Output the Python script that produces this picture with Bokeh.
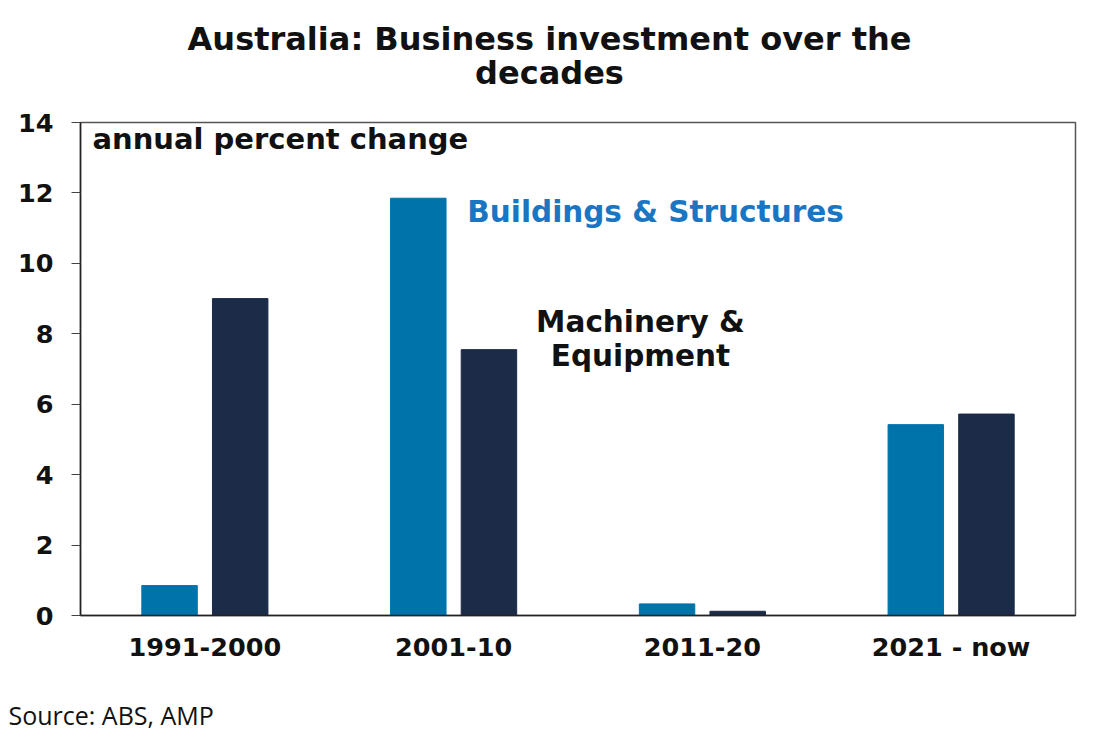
from bokeh.plotting import figure
from bokeh.layouts import column
from bokeh.models import FactorRange, Range1d, Label, FixedTicker, ColumnDataSource
from bokeh.core.properties import value
from bokeh.transform import dodge
from bokeh.embed import file_html
from bokeh.resources import INLINE

decades = ["1991-2000", "2001-10", "2011-20", "2021 - now"]
buildings = [0.85, 11.85, 0.33, 5.42]
machinery = [9.0, 7.55, 0.12, 5.72]
y_ticks = [0, 2, 4, 6, 8, 10, 12, 14]
title_lines = ["Australia: Business investment over the", "decades"]
source_note = "Source: ABS, AMP"

FONT = "DejaVu Sans"
LIGHT = "#0073ab"
DARK = "#1b2b48"
W = 1100


def text_strip(height):
    f = figure(width=W, height=height, x_range=Range1d(0, W), y_range=Range1d(height, 0),
               output_backend="svg", toolbar_location=None, title=None,
               x_axis_location=None, y_axis_location=None,
               min_border=0, min_border_left=0, min_border_right=0,
               min_border_top=0, min_border_bottom=0)
    f.frame_align = False
    f.grid.visible = False
    f.outline_line_color = None
    return f


# ---- title strip ----
top = text_strip(102)
top.text(x=[549, 549], y=[38, 72], text=title_lines,
         text_font=value(FONT), text_font_style="bold", text_font_size="32px",
         text_color="#111111", text_align="center", text_baseline="alphabetic")

# ---- main chart ----
src = ColumnDataSource(dict(decade=decades, bs=buildings, me=machinery))

p = figure(width=W, height=563, x_range=FactorRange(factors=decades),
           y_range=Range1d(0, 14), output_backend="svg", toolbar_location=None,
           title=None,
           min_border_left=80, min_border_right=25, min_border_top=20,
           min_border_bottom=50)
p.frame_align = False

p.vbar(x=dodge("decade", -0.142, range=p.x_range), top="bs", width=0.223,
       source=src, color=LIGHT)
p.vbar(x=dodge("decade", 0.142, range=p.x_range), top="me", width=0.223,
       source=src, color=DARK)

p.xgrid.visible = False
p.ygrid.visible = False
p.outline_line_color = "#555555"
p.outline_line_width = 1.5

p.yaxis.ticker = FixedTicker(ticks=y_ticks)
p.yaxis.minor_tick_line_color = None
p.yaxis.major_tick_out = 9
p.yaxis.major_tick_in = 0
p.yaxis.major_label_standoff = 18
p.yaxis.axis_line_color = "#222222"
p.yaxis.axis_line_width = 1.5
p.yaxis.major_tick_line_color = "#444444"
p.yaxis.major_label_text_font = FONT
p.yaxis.major_label_text_font_style = "bold"
p.yaxis.major_label_text_font_size = "25.5px"
p.yaxis.major_label_text_color = "#111111"

p.xaxis.major_tick_line_color = None
p.xaxis.major_tick_out = 0
p.xaxis.major_label_standoff = 16
p.xaxis.axis_line_color = "#222222"
p.xaxis.axis_line_width = 1.5
p.xaxis.major_label_text_font = FONT
p.xaxis.major_label_text_font_style = "bold"
p.xaxis.major_label_text_font_size = "25.5px"
p.xaxis.major_label_text_color = "#111111"

p.add_layout(Label(x=0.048, y=13.52, text="annual percent change",
                   text_font=FONT, text_font_style="bold", text_font_size="29px",
                   text_color="#111111", text_baseline="alphabetic"))
p.add_layout(Label(x=1.555, y=11.45, text="Buildings & Structures",
                   text_font=FONT, text_font_style="bold", text_font_size="29.5px",
                   text_color="#1a76c2", text_baseline="alphabetic"))
p.add_layout(Label(x=2.251, y=8.34, text="Machinery &",
                   text_font=FONT, text_font_style="bold", text_font_size="29.5px",
                   text_color="#111111", text_align="center", text_baseline="alphabetic"))
p.add_layout(Label(x=2.251, y=7.36, text="Equipment",
                   text_font=FONT, text_font_style="bold", text_font_size="29.5px",
                   text_color="#111111", text_align="center", text_baseline="alphabetic"))

# ---- source strip ----
bottom = text_strip(75)
bottom.text(x=[8], y=[49], text=[source_note],
            text_font=value("Open Sans"), text_font_size="25px",
            text_color="#111111", text_align="left", text_baseline="alphabetic")

layout = column(top, p, bottom, spacing=0)
open("out.html", "w").write(file_html(layout, INLINE))
